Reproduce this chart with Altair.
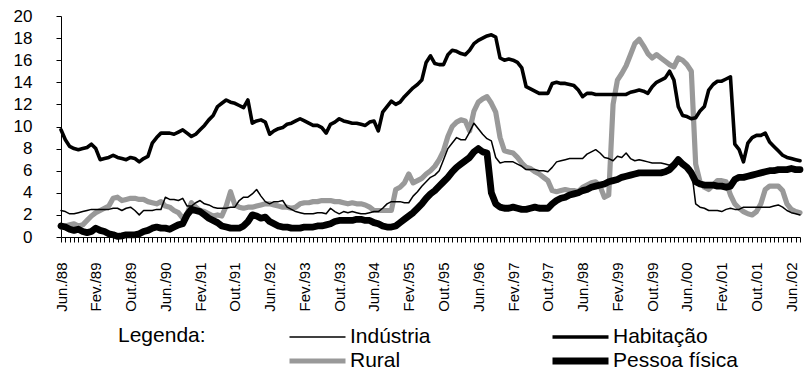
import altair as alt
import pandas as pd

# Rótulos do eixo horizontal (um a cada 8 meses, a partir de jun/88)
rotulos = ["Jun./88", "Fev./89", "Out./89", "Jun./90", "Fev./91", "Out./91",
           "Jun./92", "Fev./93", "Out./93", "Jun./94", "Fev./95", "Out./95",
           "Jun./96", "Fev./97", "Out./97", "Jun./98", "Fev./99", "Out./99",
           "Jun./00", "Fev./01", "Out./01", "Jun./02"]

series = ["Indústria", "Habitação", "Rural", "Pessoa física"]

# Séries mensais, de jun/88 a ago/02
industria = [
    2.4, 2.3, 2.1, 2.1, 2.2, 2.3, 2.4, 2.5, 2.5, 2.5,
    2.5, 2.5, 2.6, 2.6, 2.4, 2.6, 2.7, 2.4, 2.0, 2.4,
    2.4, 2.4, 2.5, 2.5, 3.6, 3.4, 3.4, 3.3, 3.5, 2.8,
    2.8, 3.1, 3.3, 3.0, 2.9, 2.7, 2.6, 2.6, 2.6, 2.7,
    2.7, 3.3, 3.6, 3.6, 3.9, 4.3, 3.7, 3.2, 3.0, 3.2,
    3.2, 3.3, 2.7, 2.5, 2.3, 2.2, 2.1, 2.1, 2.1, 2.2,
    2.2, 2.1, 2.6, 2.3, 2.1, 2.3, 2.2, 2.3, 2.2, 2.1,
    2.1, 2.2, 2.3, 2.3, 2.6, 3.0, 3.2, 3.2, 3.2, 3.1,
    3.1, 3.7, 4.1, 4.6, 5.0, 5.4, 5.6, 6.0, 7.0, 8.0,
    8.5, 9.0, 8.8, 8.8, 9.5, 10.3, 9.8, 9.3, 8.9, 8.7,
    7.2, 6.7, 6.8, 6.8, 6.8, 6.6, 6.4, 6.1, 6.1, 6.1,
    6.0, 6.0, 5.9, 6.3, 6.8, 6.9, 7.0, 7.1, 7.1, 7.1,
    7.1, 7.5, 7.7, 7.9, 7.6, 7.2, 7.1, 6.9, 7.3, 7.2,
    7.6, 7.1, 6.9, 7.0, 6.9, 6.8, 6.7, 6.7, 6.7, 6.6,
    6.5, 6.8, 7.1, 6.7, 6.5, 6.2, 3.0, 2.7, 2.6, 2.4,
    2.4, 2.4, 2.3, 2.5, 2.6, 2.5, 2.5, 2.7, 2.7, 2.7,
    2.7, 2.7, 2.7, 2.7, 2.8, 2.9, 2.7, 2.4, 2.2, 2.1,
    2.0,
]

habitacao = [
    9.7, 8.8, 8.2, 8.0, 7.9, 8.0, 8.1, 8.4, 8.0, 7.0,
    7.1, 7.2, 7.4, 7.2, 7.1, 7.0, 7.2, 7.1, 6.8, 7.1,
    7.3, 8.5, 9.0, 9.4, 9.4, 9.4, 9.3, 9.5, 9.7, 9.4,
    9.1, 9.3, 9.7, 10.1, 10.6, 11.0, 11.8, 12.1, 12.4, 12.2,
    12.1, 11.9, 11.7, 12.4, 10.3, 10.5, 10.6, 10.4, 9.3, 9.6,
    9.8, 9.9, 10.2, 10.3, 10.5, 10.7, 10.5, 10.3, 10.1, 10.1,
    9.9, 9.4, 10.2, 10.4, 10.7, 10.5, 10.4, 10.3, 10.3, 10.2,
    10.1, 10.4, 10.5, 9.6, 11.3, 11.8, 12.3, 12.0, 12.2, 12.7,
    13.1, 13.5, 13.8, 14.2, 15.8, 16.4, 15.7, 15.6, 15.6, 16.5,
    16.9, 16.8, 16.6, 16.5, 16.9, 17.5, 17.8, 18.0, 18.2, 18.3,
    18.1, 16.2, 16.0, 16.1, 16.0, 15.8, 15.3, 13.6, 13.4, 13.2,
    13.0, 13.0, 13.0, 13.9, 14.0, 13.9, 13.9, 13.8, 13.7, 13.3,
    12.7, 13.0, 13.0, 12.9, 12.9, 12.9, 12.9, 12.9, 12.9, 12.9,
    12.9, 13.1, 13.2, 13.3, 13.2, 13.0, 13.6, 14.0, 14.2, 14.4,
    15.0, 14.2, 11.8, 11.0, 10.9, 10.7, 10.8, 11.4, 11.8, 13.3,
    13.8, 14.1, 14.1, 14.3, 14.5, 8.4, 7.9, 6.8, 8.5, 9.0,
    9.2, 9.2, 9.4, 8.6, 8.2, 7.8, 7.4, 7.2, 7.1, 7.0,
    6.9,
]

rural = [
    0.9, 1.0, 1.1, 1.2, 1.0, 1.1, 1.5, 1.9, 2.2, 2.4,
    2.6, 2.8, 3.5, 3.6, 3.3, 3.4, 3.5, 3.5, 3.4, 3.4,
    3.2, 3.1, 3.0, 3.2, 2.8, 2.7, 2.4, 2.2, 1.7, 2.1,
    3.1, 2.7, 2.4, 2.3, 2.1, 1.9, 2.0, 1.9, 2.8, 4.1,
    2.9, 2.7, 2.6, 2.7, 2.7, 2.8, 2.9, 3.0, 3.0, 2.9,
    2.8, 2.7, 2.7, 2.6, 2.7, 3.0, 3.1, 3.1, 3.2, 3.2,
    3.3, 3.3, 3.3, 3.2, 3.2, 3.1, 3.0, 3.1, 3.0, 3.0,
    2.9, 2.7, 2.4, 2.4, 2.4, 2.4, 2.4, 4.3, 4.5, 4.9,
    5.7, 4.9, 5.1, 5.3, 5.7, 6.0, 6.4, 7.0, 7.8, 9.1,
    10.0, 10.4, 10.6, 10.5, 9.6, 11.4, 12.2, 12.5, 12.7, 12.1,
    11.3, 9.0, 7.8, 7.7, 7.6, 7.2, 6.7, 6.3, 6.2, 5.9,
    5.7, 5.4, 5.1, 4.2, 4.1, 4.2, 4.3, 4.2, 4.2, 4.1,
    4.5, 4.7, 4.9, 5.0, 4.6, 3.6, 3.8, 12.0, 14.2, 14.8,
    15.5, 16.5, 17.5, 17.9, 17.3, 16.6, 16.2, 16.5, 16.2, 15.9,
    15.6, 15.4, 16.2, 16.0, 15.6, 15.0, 6.6, 5.0, 4.5, 4.3,
    4.7, 5.1, 5.1, 5.0, 3.8, 3.0, 2.6, 2.3, 2.1, 2.0,
    2.3, 3.0, 4.3, 4.6, 4.6, 4.6, 4.2, 3.0, 2.5, 2.3,
    2.2,
]

pessoa_fisica = [
    1.0, 0.9, 0.7, 0.6, 0.7, 0.5, 0.4, 0.5, 0.8, 0.6,
    0.5, 0.3, 0.2, 0.05, 0.1, 0.2, 0.2, 0.2, 0.3, 0.5,
    0.6, 0.8, 0.9, 0.8, 0.8, 0.7, 0.9, 1.1, 1.2, 2.0,
    2.5, 2.4, 2.3, 2.0, 1.7, 1.5, 1.3, 1.0, 0.9, 0.8,
    0.8, 0.8, 1.0, 1.4, 2.0, 1.9, 1.7, 1.8, 1.4, 1.2,
    1.0, 0.9, 0.9, 0.8, 0.8, 0.8, 0.9, 0.9, 0.9, 1.0,
    1.0, 1.1, 1.2, 1.4, 1.5, 1.5, 1.5, 1.5, 1.6, 1.6,
    1.5, 1.5, 1.3, 1.2, 1.0, 0.9, 0.9, 1.0, 1.3, 1.6,
    1.9, 2.2, 2.6, 3.0, 3.5, 3.9, 4.2, 4.6, 5.0, 5.4,
    5.9, 6.3, 6.6, 6.9, 7.2, 7.7, 8.0, 7.7, 7.6, 4.0,
    3.0, 2.7, 2.6, 2.6, 2.7, 2.6, 2.5, 2.5, 2.6, 2.7,
    2.6, 2.6, 2.6, 3.0, 3.3, 3.5, 3.6, 3.8, 3.9, 4.0,
    4.2, 4.3, 4.5, 4.6, 4.7, 4.8, 5.0, 5.1, 5.2, 5.4,
    5.5, 5.6, 5.7, 5.8, 5.8, 5.8, 5.8, 5.8, 5.8, 5.9,
    6.1, 6.5, 7.0, 6.6, 6.3, 5.8, 5.0, 4.8, 4.7, 4.7,
    4.7, 4.6, 4.6, 4.5, 4.6, 5.2, 5.4, 5.4, 5.5, 5.6,
    5.7, 5.8, 5.9, 6.0, 6.0, 6.1, 6.1, 6.1, 6.2, 6.1,
    6.1,
]

cores = ["#000000", "#000000", "#999999", "#000000"]
espessuras = [1.5, 3.6, 5.2, 6.8]

valores = [industria, habitacao, rural, pessoa_fisica]
linhas = []
for nome, serie in zip(series, valores):
    for t, v in enumerate(serie):
        linhas.append({"t": t, "serie": nome, "taxa": v})
df = pd.DataFrame(linhas)

n_meses = len(industria)
FONTE = "Liberation Sans"

lista_rotulos = "[" + ",".join("'" + r + "'" for r in rotulos) + "]"
expr_rotulo = f"datum.value % 8 == 0 ? {lista_rotulos}[datum.value / 8] : ''"

legenda = alt.Legend(
    title="Legenda:", orient="none", legendX=57, legendY=309,
    direction="horizontal", columns=2, titleOrient="left",
    titleFont=FONTE, titleFontSize=21, titleFontWeight="normal",
    titleColor="black", titlePadding=80, titleBaseline="top", titleAnchor="start",
    labelFont=FONTE, labelFontSize=21, labelColor="black", labelOffset=1,
    symbolType="stroke", symbolSize=3136, clipHeight=24,
    columnPadding=118, rowPadding=0,
)

x = alt.X(
    "t:Q",
    scale=alt.Scale(domain=[0, n_meses - 1], nice=False, zero=False),
    axis=alt.Axis(
        values=list(range(n_meses)), labelExpr=expr_rotulo, labelAngle=270,
        title=None, grid=False, tickSize=5, tickColor="black", domainColor="black",
        labelFont=FONTE, labelFontSize=15, labelColor="black", labelPadding=20,
        labelOverlap=False, labelFlush=False, labelBound=False,
    ),
)
y = alt.Y(
    "taxa:Q",
    scale=alt.Scale(domain=[0, 20], nice=False),
    axis=alt.Axis(
        values=list(range(0, 21, 2)), title=None, grid=False, tickSize=5,
        tickColor="black", domainColor="black", labelFont=FONTE, labelFontSize=17,
        labelColor="black", labelPadding=24,
    ),
)
cor = alt.Color("serie:N", scale=alt.Scale(domain=series, range=cores), legend=legenda)
largura = alt.StrokeWidth(
    "serie:N",
    scale=alt.Scale(type="ordinal", domain=series, range=espessuras),
    legend=legenda,
)

base = alt.Chart(df).mark_line(strokeJoin="round", strokeCap="round").encode(
    x=x, y=y, color=cor, strokeWidth=largura
)

# ordem de desenho: a série rural fica por baixo das demais
ordem = ["Rural", "Indústria", "Habitação", "Pessoa física"]
camadas = [base.transform_filter(alt.datum.serie == s) for s in ordem]

chart = alt.layer(*camadas).properties(
    width=739, height=221,
    autosize=alt.AutoSizeParams(type="none"),
    padding={"left": 61, "top": 16, "right": 6, "bottom": 137},
    background="white",
).configure_view(stroke=None)

chart.save("out.html", embed_options={"renderer": "svg", "actions": False})
